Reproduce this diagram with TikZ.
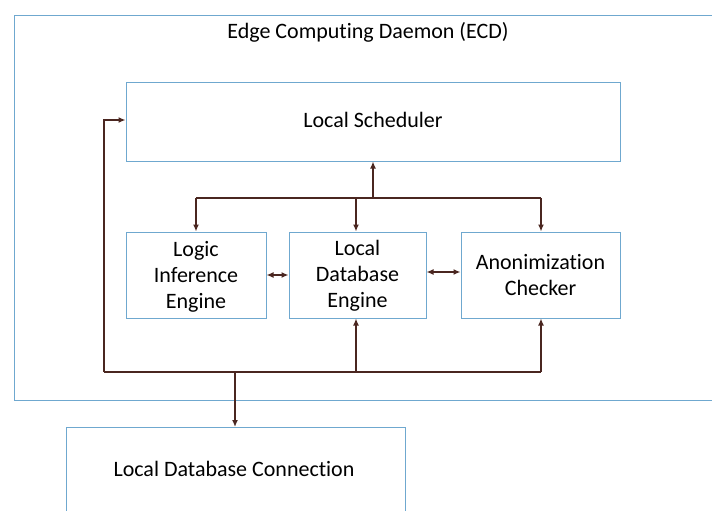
\documentclass[tikz,border=0pt]{standalone}
\usepackage{fontspec}
\setmainfont{Carlito}[Ligatures={NoCommon,NoRequired,NoContextual},Contextuals=NoAlternate]
\usetikzlibrary{arrows.meta}
\definecolor{boxblue}{HTML}{6FA8CF}
\definecolor{wire}{HTML}{4A2620}
\tikzset{
  box/.style={draw=boxblue, line width=1pt, fill=white, inner sep=0pt, align=center, font=\fontsize{22}{26}\selectfont},
  conn/.style={draw=wire, line width=1.3pt, -{Latex[length=7pt,width=6pt]}},
  dconn/.style={draw=wire, line width=1.3pt, {Latex[length=7pt,width=6pt]}-{Latex[length=7pt,width=6pt]}},
  plain/.style={draw=wire, line width=1.3pt},
  lbl/.style={font=\fontsize{22}{26}\selectfont}
}
\begin{document}
\begin{tikzpicture}[x=1pt,y=-1pt]
\useasboundingbox (0,0) rectangle (712,511);
\clip (0,0) rectangle (712,511);
% outer ECD box
\draw[draw=boxblue, line width=1pt] (14,16) rectangle (730,400);
\node[lbl] (title) at (368,32) {Edge Compu\kern0ptting Daemon (ECD)};
% scheduler
\node[box, minimum width=494pt, minimum height=79pt] (sched) at (373,121.5) {};
\node[lbl] (schedt) at (373,120) {Local Scheduler};
% middle boxes
\node[box, minimum width=140pt, minimum height=86pt] (logic) at (196,275) {};
\node[lbl, align=center] (logict) at (196,277) {Logic\\Inference\\Engine};
\node[box, minimum width=137pt, minimum height=86pt] (ldb) at (357.5,275) {};
\node[lbl, align=center] (ldbt) at (357.5,276) {Local\\Database\\Engine};
\node[box, minimum width=159pt, minimum height=86pt] (anon) at (540.5,275) {Anonimization\\Checker};
% bottom box
\node[box, minimum width=339pt, minimum height=120pt, anchor=north west] (conn) at (66,427) {};
\node[lbl] (connt) at (234,469) {Local Database Connec\kern0pttion};
% coordinates
\coordinate (top) at (373,198);
\coordinate (tl) at (196,198);
\coordinate (tr) at (541,198);
\coordinate (bl) at (104,372);
\coordinate (bm) at (235,372);
\coordinate (bldb) at (356,372);
\coordinate (br) at (541,372);
\coordinate (lup) at (104,120);
% top distribution
\draw[conn] (top) -- (sched.south -| top);
\draw[plain] (tl) -- (tr);
\draw[conn] (tl) -- (logic.north -| tl);
\draw[conn] (356,198) -- (ldb.north -| 356,0);
\draw[conn] (tr) -- (anon.north -| tr);
% horizontal double arrows
\draw[dconn] (logic.east |- 0,275) -- (ldb.west |- 0,275);
\draw[dconn] (ldb.east |- 0,272) -- (anon.west |- 0,272);
% bottom bus
\draw[plain] (bl) -- (br);
\draw[conn] (bl) -- (lup) -- (sched.west |- lup);
\draw[conn] (bldb) -- (ldb.south -| bldb);
\draw[conn] (br) -- (anon.south -| br);
\draw[conn] (bm) -- (conn.north -| bm);
\end{tikzpicture}
\end{document}
